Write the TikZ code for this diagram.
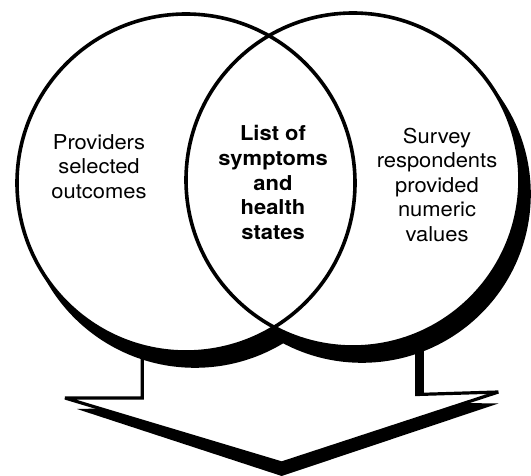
\documentclass[tikz,border=0pt]{standalone}
\usepackage{fontspec}
\setmainfont{TeX Gyre Heros}
\begin{document}
\begin{tikzpicture}[x=1pt,y=-1pt,
  ring/.style={draw=black,line width=3.6pt},
  shade/.style={fill=black,draw=none},
  arrowline/.style={draw=black,line width=3.2pt,line join=miter,miter limit=2},
  label/.style={align=center,inner sep=0pt,xscale=1.07,
    font=\fontsize{20.5}{24.5}\selectfont}]
\useasboundingbox (0,0) rectangle (531,476);

% centres of the two sets
\coordinate (L) at (186,183);
\coordinate (R) at (353,180);

% block arrow beneath the sets, with its drop shadow
\fill[shade] (77,409) -- (100,408.5) -- (281.7,463) -- (465,403)
  -- (498.3,403.5) -- (281.7,476) -- cycle;
\fill[shade] (416.7,340) rectangle (423.5,396);
\draw[arrowline] (142.3,340) -- (142.3,398) -- (65,398) -- (281.7,463)
  -- (498.3,392) -- (416.7,394.5) -- (416.7,340);

% drop shadows of the circles
\fill[shade] ([shift={(9,14)}]L) circle [radius=170.8pt];
\fill[shade] ([shift={(9,14)}]R) circle [radius=168.8pt];

% white discs, then both outlines on top
\fill[white] (L) circle [radius=169pt];
\fill[white] (R) circle [radius=167pt];
\draw[ring] (L) circle [radius=169pt];
\draw[ring] (R) circle [radius=167pt];

% texts
\node[label] (left) at (99,166.5) {Providers\\selected\\outcomes};
\node[label,font=\fontsize{20.5}{24.8}\selectfont\bfseries] (mid) at (273,182.5)
  {List of\\symptoms\\and\\health\\states};
\node[label] (right) at (437,184.5)
  {Survey\\respondents\\provided\\numeric\\values};
\end{tikzpicture}
\end{document}
